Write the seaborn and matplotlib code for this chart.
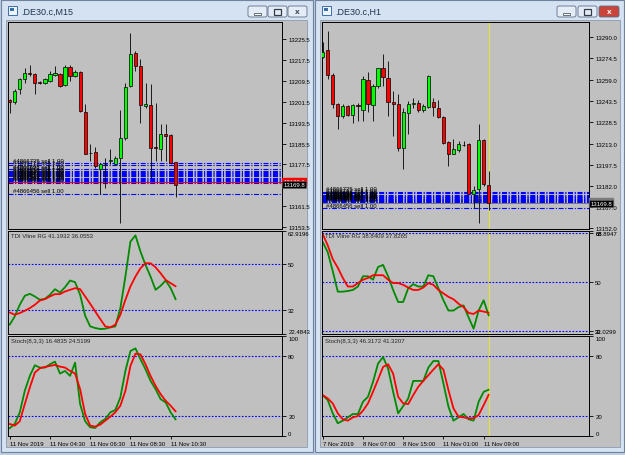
import numpy as np
import matplotlib
matplotlib.use("Agg")
import matplotlib.pyplot as plt
import matplotlib.transforms as mtransforms
from matplotlib.patches import Rectangle, FancyBboxPatch, Polygon
import seaborn as sns

W, H = 625, 456

# ---------------- data: left window (.DE30.c, M15) ----------------
L_OPEN = [13202.0, 13201.5, 13206.2, 13210.1, 13212.6, 13212.0, 13209.1, 13208.8, 13209.4, 13211.7,
          13212.2, 13207.9, 13214.8, 13211.4, 13213.0, 13197.7, 13182.0, 13182.4, 13175.6, 13177.6,
          13178.8, 13177.8, 13180.1, 13187.5, 13207.5, 13220.3, 13215.2, 13199.7, 13200.3, 13184.2,
          13183.5, 13189.0, 13188.7, 13178.3]
L_HIGH = [13202.7, 13206.2, 13210.7, 13214.5, 13215.6, 13212.6, 13209.4, 13210.7, 13213.3, 13215.2,
          13212.6, 13215.6, 13215.6, 13213.5, 13213.3, 13200.5, 13185.2, 13184.2, 13178.2, 13180.1,
          13183.3, 13180.7, 13198.2, 13208.8, 13227.9, 13220.9, 13217.7, 13208.8, 13208.2, 13201.1,
          13193.1, 13192.9, 13189.0, 13178.5]
L_LOW = [13197.0, 13200.5, 13204.3, 13208.8, 13211.4, 13204.6, 13208.2, 13208.4, 13209.2, 13211.4,
         13207.1, 13207.5, 13209.4, 13211.0, 13197.7, 13181.4, 13178.8, 13176.3, 13166.1, 13168.6,
         13177.6, 13177.6, 13155.2, 13186.7, 13207.1, 13213.3, 13193.5, 13199.2, 13172.4, 13178.8,
         13178.8, 13178.8, 13177.6, 13165.0]
L_CLOSE = [13201.5, 13205.6, 13210.1, 13212.6, 13212.0, 13208.8, 13208.6, 13210.1, 13212.0, 13212.6,
           13207.5, 13214.8, 13211.4, 13213.0, 13198.0, 13181.6, 13181.8, 13176.9, 13177.6, 13177.8,
           13179.1, 13179.8, 13187.5, 13207.1, 13219.9, 13215.2, 13200.3, 13200.8, 13183.9, 13183.7,
           13189.3, 13188.4, 13178.2, 13169.8]
L_TDI_GREEN = [26.13, 29.39, 33.96, 37.48, 38.26, 37.22, 35.91, 36.30, 37.87, 40.09, 38.78, 40.87,
               43.48, 42.83, 37.87, 29.65, 25.48, 24.83, 24.44, 24.57, 25.09, 25.48, 32.65, 45.04,
               58.74, 61.20, 54.82, 49.61, 45.04, 39.83, 41.39, 43.48, 40.48, 36.06]
L_TDI_RED = [30.96, 30.04, 30.70, 31.61, 32.65, 33.96, 35.65, 36.17, 37.22, 38.13, 38.13, 39.17,
             39.83, 40.48, 40.09, 37.22, 34.35, 31.35, 28.35, 25.48, 25.09, 26.13, 30.04, 35.91,
             41.13, 45.04, 48.30, 50.26, 50.26, 48.69, 46.35, 43.74, 42.43, 41.19]
L_STO_MAIN = [7.74, 12.05, 23.65, 45.19, 60.11, 70.72, 68.40, 68.40, 71.71, 74.36, 62.43, 65.08,
              60.11, 73.37, 31.93, 14.70, 8.73, 8.07, 13.70, 17.02, 23.65, 25.97, 38.56, 65.08,
              84.97, 87.62, 76.68, 66.74, 55.14, 46.85, 36.91, 33.59, 23.65, 16.48]
L_STO_SIG = [12.05, 10.39, 14.70, 31.93, 48.51, 63.42, 67.73, 69.06, 70.05, 71.05, 69.39, 68.40,
             65.08, 62.43, 46.85, 21.99, 10.39, 9.40, 11.39, 15.36, 19.34, 23.65, 30.28, 45.19,
             70.05, 82.32, 81.65, 71.71, 60.11, 50.17, 41.88, 35.25, 30.28, 24.52]
L_PRICE_TICKS = [13153.5, 13161.5, 13177.5, 13185.5, 13193.5, 13201.5, 13209.5, 13217.5, 13225.5]
L_DATE_TICKS = [0, 8, 16, 24, 32]
L_DATE_LABELS = ["11 Nov 2019", "11 Nov 04:30", "11 Nov 06:30", "11 Nov 08:30", "11 Nov 10:30"]

# ---------------- data: right window (.DE30.c, H1) ----------------
R_OPEN = [13275.5, 13280.4, 13262.6, 13241.4, 13232.9, 13240.1, 13233.6, 13240.9, 13237.0, 13258.7,
          13240.9, 13254.6, 13267.4, 13260.6, 13243.3, 13241.4, 13210.0, 13235.3, 13241.8, 13242.6,
          13237.0, 13239.4, 13243.3, 13238.5, 13232.2, 13214.4, 13205.7, 13208.1, 13212.0, 13212.9,
          13176.3, 13180.0, 13215.3, 13183.3]
R_HIGH = [13286.4, 13294.0, 13264.2, 13242.6, 13241.4, 13240.8, 13241.4, 13242.6, 13261.8, 13264.9,
          13255.8, 13267.8, 13277.5, 13272.7, 13251.0, 13248.6, 13238.5, 13243.8, 13245.7, 13244.2,
          13241.4, 13262.3, 13245.7, 13244.2, 13232.9, 13214.9, 13216.1, 13214.9, 13214.9, 13213.7,
          13182.3, 13227.4, 13216.1, 13193.0]
R_LOW = [13274.6, 13259.4, 13238.5, 13223.3, 13231.7, 13232.9, 13228.1, 13229.3, 13229.3, 13236.0,
         13229.3, 13253.4, 13254.6, 13232.9, 13218.5, 13207.6, 13194.4, 13219.7, 13238.5, 13236.0,
         13236.0, 13238.5, 13232.9, 13231.2, 13212.9, 13196.8, 13205.2, 13207.2, 13211.2, 13176.3,
         13166.7, 13155.8, 13182.3, 13165.0]
R_CLOSE = [13279.4, 13262.6, 13241.4, 13232.9, 13240.1, 13233.6, 13240.9, 13239.9, 13259.4, 13241.4,
           13254.6, 13267.4, 13261.1, 13243.3, 13241.4, 13209.6, 13236.0, 13241.4, 13242.6, 13237.0,
           13240.1, 13261.8, 13239.4, 13232.2, 13213.7, 13205.7, 13208.8, 13212.9, 13212.2, 13176.8,
           13179.2, 13215.3, 13183.6, 13169.8]
R_TDI_GREEN = [64.87, 61.08, 54.15, 46.59, 46.59, 46.84, 47.22, 48.48, 52.26, 52.26, 51.00, 55.66,
               56.42, 52.26, 47.22, 42.80, 42.80, 47.85, 49.36, 48.48, 48.48, 52.64, 52.26, 47.85,
               43.43, 39.65, 39.65, 40.91, 41.54, 37.13, 32.97, 39.65, 43.43, 37.83]
R_TDI_RED = [67.77, 63.61, 58.56, 55.41, 51.63, 48.48, 48.48, 49.74, 51.00, 51.63, 52.64, 52.64,
             52.64, 51.00, 49.74, 49.74, 49.11, 48.10, 47.22, 47.22, 48.10, 49.74, 49.11, 47.22,
             45.96, 44.70, 43.81, 42.17, 40.91, 38.77, 38.39, 39.65, 39.27, 38.84]
R_STO_MAIN = [40.88, 35.91, 22.65, 12.71, 15.36, 18.67, 22.00, 22.00, 34.25, 39.22, 54.14, 72.37,
              79.00, 67.40, 44.20, 22.65, 29.90, 37.60, 55.10, 55.10, 55.10, 68.40, 75.00, 75.00,
              52.50, 29.30, 15.36, 18.67, 22.00, 16.70, 15.36, 34.25, 44.20, 46.32]
R_STO_SIG = [40.88, 37.60, 32.60, 22.65, 16.70, 15.36, 18.67, 20.00, 25.30, 32.60, 44.20, 56.46,
             69.05, 71.70, 62.40, 39.22, 32.60, 31.93, 40.88, 49.20, 55.10, 60.77, 66.40, 71.70,
             66.40, 45.85, 27.60, 19.30, 18.67, 17.70, 17.70, 21.00, 30.90, 41.32]
R_PRICE_TICKS = [13152.0, 13167.0, 13182.0, 13197.5, 13213.0, 13228.5, 13243.5, 13259.0, 13274.5, 13290.0]
R_DATE_TICKS = [0, 8, 16, 24, 32]
R_DATE_LABELS = ["7 Nov 2019", "8 Nov 07:00", "8 Nov 15:00", "11 Nov 01:00", "11 Nov 09:00"]

# open sell orders (same on both charts)
ORDER_PRICES = [13177.9, 13177.1, 13175.6, 13175.0, 13174.5, 13174.1, 13173.7, 13173.3, 13172.9,
                13172.5, 13172.1, 13171.7, 13171.3, 13170.9, 13170.5, 13166.2]
ORDER_IDS = ["#4866735", "#4866712", "#4866698", "#4866671", "#4866650", "#4866633", "#4866610",
             "#4866592", "#4866574", "#4866551", "#4866530", "#4866512", "#4866497", "#4866480",
             "#4866468", "#4866456"]
BID = 13169.8

sns.set_theme(style="white")
plt.rcParams["font.family"] = ["Liberation Sans", "DejaVu Sans"]
plt.rcParams["axes.linewidth"] = 0.7

CHART_BG = "#c0c0c0"
FS = 4.3
STEP = 5.03

fig = plt.figure(figsize=(6.25, 4.56), dpi=100, facecolor="#bccfe6")


def frac(x0, y0, x1, y1):
    return [x0 / W, 1 - y1 / H, (x1 - x0) / W, (y1 - y0) / H]


bg = fig.add_axes([0, 0, 1, 1])
bg.set_xlim(0, W)
bg.set_ylim(H, 0)
bg.axis("off")


def draw_window(x0, x1, cx0, cx1, title, btns, active):
    bg.add_patch(Rectangle((x0, 1), x1 - x0, 452, fc="#d5e2f2", ec="#6f839c", lw=0.8))
    bg.add_patch(Rectangle((cx0, 21), cx1 - cx0, 427, fc=CHART_BG, ec="#8a9bb0", lw=0.6))
    bg.add_patch(Rectangle((x0 + 7, 7), 9, 9, fc="#eef4fb", ec="#3c6ea8", lw=0.7))
    bg.add_patch(Rectangle((x0 + 9, 9), 4, 3, fc="#3c6ea8", ec="none"))
    bg.text(x0 + 20, 12.5, title, fontsize=6.5, color="#1e3550", va="center")
    kinds = ["min", "max", "close"]
    for (bx0, bx1), kind in zip(btns, kinds):
        red = active and kind == "close"
        bg.add_patch(FancyBboxPatch((bx0, 7), bx1 - bx0, 11, boxstyle="round,pad=0,rounding_size=2",
                                    fc="#c9453b" if red else "#e4edf7", ec="#5d6f86", lw=0.6))
        cx, cy = (bx0 + bx1) / 2, 12.5
        if kind == "min":
            bg.add_patch(Rectangle((cx - 3.5, cy + 1), 7, 2, fc="white", ec="#333c48", lw=0.5))
        elif kind == "max":
            bg.add_patch(Rectangle((cx - 3.5, cy - 3), 7, 6, fc="none", ec="#333c48", lw=0.9))
        else:
            bg.text(cx, cy, "x", fontsize=6, fontweight="bold", ha="center", va="center",
                    color="white" if red else "#333c48")


draw_window(1, 313, 6, 307, ".DE30.c,M15", [(248, 267), (268, 287), (288, 307)], False)
draw_window(315, 624, 320, 620, ".DE30.c,H1", [(557, 576), (578, 597), (599, 619)], True)

ORDER_DASH = (0, (4.5, 1.5, 1, 1.5))
LEVEL_DOT = (0, (1.5, 1.5))


def right_ticks(ax, ticks, labels):
    ax.yaxis.tick_right()
    ax.set_yticks(ticks)
    ax.set_yticklabels(labels)
    ax.tick_params(axis="y", length=3, width=0.6, pad=1.5, labelsize=FS, colors="black", right=True)


def make_chart(x0, x1, c0, o, h, l, c, price_lim, price_ticks, tdi_g, tdi_r, tdi_lim, tdi_ticks,
               tdi_labels, sto_m, sto_s, date_ticks, date_labels, ask, ask_color, label_ax):
    idx = np.arange(len(o))
    xlim = ((x0 - c0) / STEP, (x1 - c0) / STEP)
    o, h, l, c = map(np.asarray, (o, h, l, c))

    # ---- price pane ----
    ax = fig.add_axes(frac(x0, 23, x1, 230))
    ax.set_facecolor(CHART_BG)
    for p, oid in zip(ORDER_PRICES, ORDER_IDS):
        ax.axhline(p, color="#0000ff", lw=0.8, ls=ORDER_DASH, zorder=1)
        ax.text(0.7, p + 0.3 * (price_lim[1] - price_lim[0]) / 80, f"{oid} sell 1.00",
                fontsize=FS, va="bottom", ha="left", color="black", zorder=4)
    ax.axhline(ask, color=ask_color, lw=0.7, zorder=1.5)
    ax.vlines(idx, l, h, color="black", lw=0.6, zorder=2)
    up = c >= o
    body = np.maximum(np.abs(c - o), 0.12)
    ax.bar(idx, body, bottom=np.minimum(o, c), width=0.64, color=np.where(up, "#00ff00", "#ff0000"),
           edgecolor="black", linewidth=0.5, zorder=3)
    ax.set_xlim(*xlim)
    ax.set_ylim(*price_lim)
    ax.set_xticks([])
    right_ticks(ax, price_ticks, [f"{t:.1f}" for t in price_ticks])
    blend = mtransforms.blended_transform_factory(ax.transAxes, ax.transData)
    ax.text(1.004, ask + 0.5, f"{ask:.1f}", transform=blend, fontsize=FS, color="white", va="center",
            ha="left", clip_on=False, zorder=5,
            bbox=dict(boxstyle="square,pad=0.18", fc=ask_color, ec=ask_color))
    ax.text(1.004, BID, f"{BID:.1f}", transform=blend, fontsize=FS, color="white", va="center",
            ha="left", clip_on=False, zorder=6,
            bbox=dict(boxstyle="square,pad=0.18", fc="black", ec="#606060", lw=0.4))
    axes = [ax]

    # ---- TDI pane ----
    ax2 = fig.add_axes(frac(x0, 232, x1, 335))
    ax2.set_facecolor(CHART_BG)
    for lv in [32, 50, 68]:
        ax2.axhline(lv, color="#0000ff", lw=0.8, ls=LEVEL_DOT, zorder=1)
    sns.lineplot(x=idx, y=tdi_g, color="#008a00", lw=1.3, ax=ax2, legend=False)
    sns.lineplot(x=idx, y=tdi_r, color="#ff0000", lw=1.3, ax=ax2, legend=False)
    ax2.set_xlim(*xlim)
    ax2.set_ylim(*tdi_lim)
    ax2.set_xticks([])
    right_ticks(ax2, tdi_ticks, tdi_labels)
    for t, lab in zip(tdi_ticks, ax2.get_yticklabels()):
        if t == tdi_lim[1]:
            lab.set_va("top")
        elif t == tdi_lim[0]:
            lab.set_va("bottom")
    axes.append(ax2)

    # ---- Stochastic pane ----
    ax3 = fig.add_axes(frac(x0, 337, x1, 437))
    ax3.set_facecolor(CHART_BG)
    for lv in [20, 80]:
        ax3.axhline(lv, color="#0000ff", lw=0.8, ls=LEVEL_DOT, zorder=1)
    sns.lineplot(x=idx, y=sto_m, color="#008a00", lw=1.3, ax=ax3, legend=False)
    sns.lineplot(x=idx, y=sto_s, color="#ff0000", lw=1.3, ax=ax3, legend=False)
    ax3.set_xlim(*xlim)
    ax3.set_ylim(0, 100)
    right_ticks(ax3, [0, 20, 80, 100], ["0", "20", "80", "100"])
    labs = ax3.get_yticklabels()
    labs[0].set_va("bottom")
    labs[-1].set_va("top")
    ax3.set_xticks(date_ticks)
    ax3.set_xticklabels(date_labels, ha="left")
    ax3.tick_params(axis="x", length=2.5, width=0.6, pad=1.2, labelsize=FS, colors="black", bottom=True)
    axes.append(ax3)

    for a in axes:
        a.set_xlabel("")
        a.set_ylabel("")
        a.grid(False)
        for s in a.spines.values():
            s.set_color("black")
            s.set_linewidth(0.7)
    ax2.text(0.012, 0.985, label_ax[0], transform=ax2.transAxes, fontsize=FS, va="top", zorder=5)
    ax3.text(0.012, 0.985, label_ax[1], transform=ax3.transAxes, fontsize=FS, va="top", zorder=5)
    return axes


make_chart(8, 282, 9.7, L_OPEN, L_HIGH, L_LOW, L_CLOSE, (13152.8, 13232.0), L_PRICE_TICKS,
           L_TDI_GREEN, L_TDI_RED, (22.4843, 62.9196), [22.4843, 32, 50, 62.9196],
           ["22.4843", "32", "50", "62.9196"], L_STO_MAIN, L_STO_SIG, L_DATE_TICKS, L_DATE_LABELS,
           13170.6, "#ff0000",
           ["TDI Vline RG 41.1932 36.0553", "Stoch(8,3,3) 16.4835 24.5199"])

r_axes = make_chart(322, 589, 322.7, R_OPEN, R_HIGH, R_LOW, R_CLOSE, (13151.3, 13300.8), R_PRICE_TICKS,
                    R_TDI_GREEN, R_TDI_RED, (31.0299, 68.8947), [31.0299, 32, 50, 68, 68.8947],
                    ["31.0299", "32", "50", "68", "68.8947"], R_STO_MAIN, R_STO_SIG, R_DATE_TICKS,
                    R_DATE_LABELS, 13170.3, "#7a7a7a",
                    ["TDI Vline RG 38.8409 37.8265", "Stoch(8,3,3) 46.3172 41.3207"])
for a in r_axes:
    a.axvline(33, color="#e4e43a", lw=0.8, zorder=0.5)

# chart headers and overlays
bg.text(11, 29, "▼ .DE30.c,M15  13178.3 13178.5 13165.0 13169.8", fontsize=FS, va="center")
bg.text(12, 45, "Total Orders: 0 / 35", fontsize=FS, va="center")
bg.text(276, 29, "BreakEven ☺", fontsize=FS, va="center", ha="right")
bg.text(276, 39.5, "00:04:36", fontsize=6.8, fontweight="bold", color="#ff0000", va="center", ha="right")
bg.text(325, 29, "▼ .DE30.c,H1  13183.3 13193.0 13165.0 13169.8", fontsize=FS, va="center")
bg.text(584, 39.5, "00:04:37", fontsize=6.8, fontweight="bold", color="#ff0000", va="center", ha="right")
bg.add_patch(Polygon([(185, 23.5), (191, 23.5), (188, 26.5)], closed=True, fc="#7b8ea6", ec="none", zorder=10))
bg.add_patch(Polygon([(495, 23.5), (501, 23.5), (498, 26.5)], closed=True, fc="#7b8ea6", ec="none", zorder=10))

fig.savefig("out.png", dpi=100, facecolor=fig.get_facecolor())
